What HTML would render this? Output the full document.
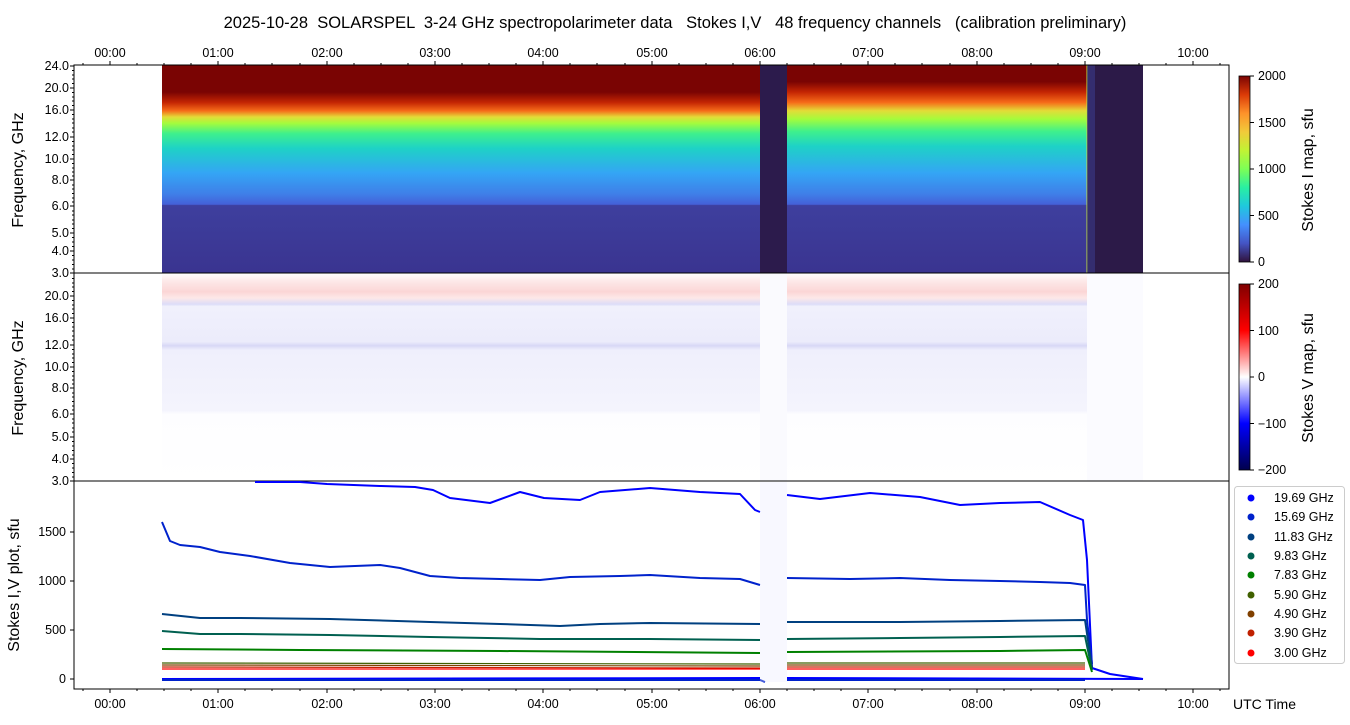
<!DOCTYPE html>
<html><head><meta charset="utf-8"><style>
body{margin:0;background:#fff;}
svg{display:block;font-family:"Liberation Sans","DejaVu Sans",sans-serif;}
</style></head><body>
<svg width="1350" height="725" viewBox="0 0 1350 725" xmlns="http://www.w3.org/2000/svg">
<defs>
<linearGradient id="gI" x1="0" y1="0" x2="0" y2="1">
<stop offset="0" stop-color="#7a0403"/>
<stop offset="0.13" stop-color="#7a0403"/>
<stop offset="0.18" stop-color="#c42503"/>
<stop offset="0.22" stop-color="#f66b19"/>
<stop offset="0.25" stop-color="#e2dc38"/>
<stop offset="0.28" stop-color="#a4fc3c"/>
<stop offset="0.33" stop-color="#3ef08d"/>
<stop offset="0.40" stop-color="#1ed2c6"/>
<stop offset="0.52" stop-color="#34a5f5"/>
<stop offset="0.62" stop-color="#3f7fe8"/>
<stop offset="0.67" stop-color="#4460d8"/>
<stop offset="0.675" stop-color="#3e3f9e"/>
<stop offset="1" stop-color="#3a3490"/>
</linearGradient>
<linearGradient id="gI2" x1="0" y1="0" x2="0" y2="1">
<stop offset="0" stop-color="#7a0403"/>
<stop offset="0.08" stop-color="#7a0403"/>
<stop offset="0.13" stop-color="#c42503"/>
<stop offset="0.18" stop-color="#f66b19"/>
<stop offset="0.22" stop-color="#e2dc38"/>
<stop offset="0.26" stop-color="#a4fc3c"/>
<stop offset="0.32" stop-color="#3ef08d"/>
<stop offset="0.39" stop-color="#1ed2c6"/>
<stop offset="0.52" stop-color="#34a5f5"/>
<stop offset="0.62" stop-color="#3f7fe8"/>
<stop offset="0.67" stop-color="#4460d8"/>
<stop offset="0.675" stop-color="#3e3f9e"/>
<stop offset="1" stop-color="#3a3490"/>
</linearGradient>
<linearGradient id="gV" x1="0" y1="0" x2="0" y2="1">
<stop offset="0" stop-color="#ffffff"/>
<stop offset="0.04" stop-color="#fde8e8"/>
<stop offset="0.09" stop-color="#fbd6d6"/>
<stop offset="0.12" stop-color="#fde8e8"/>
<stop offset="0.15" stop-color="#dcdcf8"/>
<stop offset="0.16" stop-color="#f0f0fc"/>
<stop offset="0.33" stop-color="#ececfb"/>
<stop offset="0.35" stop-color="#d8d8f6"/>
<stop offset="0.37" stop-color="#efeffc"/>
<stop offset="0.66" stop-color="#f4f4fd"/>
<stop offset="0.68" stop-color="#fdfdff"/>
<stop offset="1" stop-color="#ffffff"/>
</linearGradient>
<linearGradient id="cbI" x1="0" y1="1" x2="0" y2="0">
<stop offset="0" stop-color="#30123b"/>
<stop offset="0.1" stop-color="#4454c4"/>
<stop offset="0.2" stop-color="#4490fe"/>
<stop offset="0.3" stop-color="#1fc8de"/>
<stop offset="0.4" stop-color="#29efa2"/>
<stop offset="0.5" stop-color="#7dff56"/>
<stop offset="0.6" stop-color="#c1f334"/>
<stop offset="0.7" stop-color="#f1ca3a"/>
<stop offset="0.8" stop-color="#fe922a"/>
<stop offset="0.9" stop-color="#db3a07"/>
<stop offset="1" stop-color="#7a0403"/>
</linearGradient>
<linearGradient id="cbV" x1="0" y1="1" x2="0" y2="0">
<stop offset="0" stop-color="#00004c"/>
<stop offset="0.25" stop-color="#0000ff"/>
<stop offset="0.5" stop-color="#ffffff"/>
<stop offset="0.75" stop-color="#ff0000"/>
<stop offset="1" stop-color="#800000"/>
</linearGradient>
</defs>

<text x="675" y="28" text-anchor="middle" font-size="16.5" style="white-space:pre" xml:space="preserve">2025-10-28  SOLARSPEL  3-24 GHz spectropolarimeter data   Stokes I,V   48 frequency channels   (calibration preliminary)</text>

<!-- Panel 1 -->
<rect x="162" y="65" width="598" height="208" fill="url(#gI)"/>
<rect x="787" y="65" width="300" height="208" fill="url(#gI2)"/>
<rect x="760" y="65" width="27" height="208" fill="#2c1b4c"/>
<rect x="1087" y="65" width="56" height="208" fill="#2c1a48"/>
<rect x="1087" y="65" width="8" height="208" fill="#3a3a8a" opacity="0.6"/>
<rect x="1086" y="65" width="1.5" height="208" fill="#c0e040" opacity="0.5"/>
<rect x="74" y="65" width="1155" height="208" fill="none" stroke="#000" stroke-width="1"/>

<!-- Panel 2 -->
<rect x="162" y="273" width="981" height="208" fill="url(#gV)"/>
<rect x="760" y="273" width="27" height="208" fill="#fafafe"/>
<rect x="1087" y="273" width="56" height="208" fill="#fbfbff"/>
<rect x="74" y="273" width="1155" height="208" fill="none" stroke="#000" stroke-width="1"/>

<!-- Panel 3 -->
<rect x="74" y="481" width="1155" height="208" fill="none" stroke="#000" stroke-width="1"/>
<g fill="none" stroke-width="2" stroke-linejoin="round">
<polyline stroke="#0000ff" points="255,482 300,482 327,484 380,486 415,487 433,490 450,498 490,503 520,492 544,498 580,500 600,492 625,490 650,488 700,492 740,494 755,510 760,512"/>
<polyline stroke="#0000ff" points="787,495 820,499 870,493 920,497 960,505 1000,503 1040,502 1070,515 1083,520 1087,560 1092,668 1110,674 1143,679"/>
<polyline stroke="#0022cc" points="162,522 170,541 180,545 200,547 220,552 250,556 290,563 330,567 380,565 400,568 430,576 460,578 500,579 540,580 570,577 620,576 650,575 700,578 740,579 760,585"/>
<polyline stroke="#0022cc" points="787,578 850,579 900,578 950,580 1000,581 1040,582 1070,583 1085,585 1087,620 1092,664"/>
<polyline stroke="#004080" points="162,614 200,618 240,618 330,619 430,622 500,624 560,626 600,624 650,623 760,624"/>
<polyline stroke="#004080" points="787,622 900,622 1000,621 1085,620 1092,668"/>
<polyline stroke="#006050" points="162,631 200,634 240,634 330,635 430,637 540,639 650,639 760,640"/>
<polyline stroke="#006050" points="787,639 900,638 1000,637 1085,636 1092,670"/>
<polyline stroke="#008000" points="162,649 300,650 500,651 760,653"/>
<polyline stroke="#008000" points="787,652 1000,651 1085,650 1092,672"/>
</g>
<g fill="none" stroke-width="1.2">
<polyline stroke="#406000" points="162,663 760,664"/><polyline stroke="#406000" points="787,663 1085,663"/>
<polyline stroke="#804000" points="162,665 760,666"/><polyline stroke="#804000" points="787,665 1085,665"/>
<polyline stroke="#c02000" points="162,667 760,668"/><polyline stroke="#c02000" points="787,667 1085,667"/>
<polyline stroke="#ff0000" points="162,669 760,669"/><polyline stroke="#ff0000" points="787,669 1085,669"/>
</g>
<g fill="none" stroke-width="2">
<polyline stroke="#0000ff" points="162,679 760,678"/><polyline stroke="#0000ff" points="787,678 1143,679"/>
<polyline stroke="#0022cc" points="162,680 760,680 765,682"/><polyline stroke="#0022cc" points="787,680 1085,680"/>
</g>
<rect x="760" y="482" width="27" height="200" fill="#e8e8ff" opacity="0.3"/>

<!-- Colorbars -->
<rect x="1239" y="76" width="11" height="186" fill="url(#cbI)" stroke="#000" stroke-width="0.8"/>
<rect x="1239" y="284" width="11" height="186" fill="url(#cbV)" stroke="#000" stroke-width="0.8"/>
<g font-size="12.5" fill="#000">
<text x="1258" y="80">2000</text><text x="1258" y="127">1500</text><text x="1258" y="173">1000</text><text x="1258" y="220">500</text><text x="1258" y="266">0</text>
<text x="1258" y="288">200</text><text x="1258" y="335">100</text><text x="1258" y="381">0</text><text x="1258" y="428">−100</text><text x="1258" y="474">−200</text>
</g>
<g stroke="#000">
<line x1="1250" y1="76" x2="1254" y2="76"/><line x1="1250" y1="122.5" x2="1254" y2="122.5"/><line x1="1250" y1="169" x2="1254" y2="169"/><line x1="1250" y1="215.5" x2="1254" y2="215.5"/><line x1="1250" y1="262" x2="1254" y2="262"/>
<line x1="1250" y1="284" x2="1254" y2="284"/><line x1="1250" y1="330.5" x2="1254" y2="330.5"/><line x1="1250" y1="377" x2="1254" y2="377"/><line x1="1250" y1="423.5" x2="1254" y2="423.5"/><line x1="1250" y1="470" x2="1254" y2="470"/>
</g>
<text transform="translate(1313,170) rotate(-90)" text-anchor="middle" font-size="16">Stokes I map, sfu</text>
<text transform="translate(1313,378) rotate(-90)" text-anchor="middle" font-size="16">Stokes V map, sfu</text>

<!-- Legend -->
<rect x="1234.5" y="486.5" width="110" height="177" rx="3" fill="#fff" stroke="#ccc"/>
<g font-size="12.5">
<circle cx="1251" cy="498" r="3.5" fill="#0000ff"/><text x="1274" y="502">19.69 GHz</text>
<circle cx="1251" cy="517" r="3.5" fill="#0022cc"/><text x="1274" y="521">15.69 GHz</text>
<circle cx="1251" cy="537" r="3.5" fill="#004080"/><text x="1274" y="541">11.83 GHz</text>
<circle cx="1251" cy="556" r="3.5" fill="#006050"/><text x="1274" y="560">9.83 GHz</text>
<circle cx="1251" cy="575" r="3.5" fill="#008000"/><text x="1274" y="579">7.83 GHz</text>
<circle cx="1251" cy="595" r="3.5" fill="#406000"/><text x="1274" y="599">5.90 GHz</text>
<circle cx="1251" cy="614" r="3.5" fill="#804000"/><text x="1274" y="618">4.90 GHz</text>
<circle cx="1251" cy="633" r="3.5" fill="#c02000"/><text x="1274" y="637">3.90 GHz</text>
<circle cx="1251" cy="653" r="3.5" fill="#ff0000"/><text x="1274" y="657">3.00 GHz</text>
</g>

<!-- Y labels panel 1/2 -->
<g font-size="12.5" text-anchor="end">
<text x="69" y="70">24.0</text><text x="69" y="92">20.0</text><text x="69" y="114">16.0</text><text x="69" y="141">12.0</text><text x="69" y="163">10.0</text><text x="69" y="184">8.0</text><text x="69" y="210">6.0</text><text x="69" y="237">5.0</text><text x="69" y="255">4.0</text><text x="69" y="277">3.0</text>
<text x="69" y="300">20.0</text><text x="69" y="322">16.0</text><text x="69" y="349">12.0</text><text x="69" y="371">10.0</text><text x="69" y="392">8.0</text><text x="69" y="418">6.0</text><text x="69" y="441">5.0</text><text x="69" y="463">4.0</text><text x="69" y="485">3.0</text>
<text x="66" y="683">0</text><text x="66" y="634">500</text><text x="66" y="585">1000</text><text x="66" y="536">1500</text>
</g>
<g stroke="#000" stroke-width="1">
<path d="M70,66h4M70,88h4M70,110h4M70,137h4M70,159h4M70,180h4M70,206h4M70,233h4M70,251h4M70,273h4M70,296h4M70,318h4M70,345h4M70,367h4M70,388h4M70,414h4M70,437h4M70,459h4M70,481h4M70,679h4M70,630h4M70,581h4M70,532h4"/>
<path d="M72,70.5h2M72,75h2M72,79h2M72,83.5h2M72,92.5h2M72,97h2M72,101h2M72,105.5h2M72,114.5h2M72,119h2M72,123h2M72,128h2M72,132h2M72,141.5h2M72,146h2M72,150h2M72,154.5h2M72,163.5h2M72,168h2M72,172h2M72,176h2M72,185h2M72,189h2M72,193.5h2M72,198h2M72,202h2M72,211h2M72,215h2M72,220h2M72,224h2M72,228.5h2M72,237.5h2M72,242h2M72,246.5h2M72,255.5h2M72,260h2M72,264.5h2M72,269h2"/>
<path d="M72,278.5h2M72,283h2M72,287h2M72,291.5h2M72,300.5h2M72,305h2M72,309h2M72,313.5h2M72,322.5h2M72,327h2M72,331h2M72,336h2M72,340h2M72,349.5h2M72,354h2M72,358h2M72,362.5h2M72,371.5h2M72,376h2M72,380h2M72,384h2M72,393h2M72,397h2M72,401.5h2M72,406h2M72,410h2M72,419h2M72,423h2M72,428h2M72,432h2M72,441.5h2M72,446h2M72,450.5h2M72,455h2M72,463.5h2M72,468h2M72,472.5h2M72,477h2"/>
</g>
<text transform="translate(23,170) rotate(-90)" text-anchor="middle" font-size="16">Frequency, GHz</text>
<text transform="translate(23,378) rotate(-90)" text-anchor="middle" font-size="16">Frequency, GHz</text>
<text transform="translate(19,585) rotate(-90)" text-anchor="middle" font-size="16">Stokes I,V plot, sfu</text>

<!-- X axes -->
<g font-size="12.5" text-anchor="middle">
<text x="110" y="57">00:00</text><text x="218" y="57">01:00</text><text x="327" y="57">02:00</text><text x="435" y="57">03:00</text><text x="543" y="57">04:00</text><text x="652" y="57">05:00</text><text x="760" y="57">06:00</text><text x="868" y="57">07:00</text><text x="977" y="57">08:00</text><text x="1085" y="57">09:00</text><text x="1193" y="57">10:00</text>
<text x="110" y="708">00:00</text><text x="218" y="708">01:00</text><text x="327" y="708">02:00</text><text x="435" y="708">03:00</text><text x="543" y="708">04:00</text><text x="652" y="708">05:00</text><text x="760" y="708">06:00</text><text x="868" y="708">07:00</text><text x="977" y="708">08:00</text><text x="1085" y="708">09:00</text><text x="1193" y="708">10:00</text>
</g>
<text x="1233" y="709" font-size="14">UTC Time</text>
<g stroke="#000">
<path d="M110,61v4M218,61v4M327,61v4M435,61v4M543,61v4M652,61v4M760,61v4M868,61v4M977,61v4M1085,61v4M1193,61v4M110,689v4M218,689v4M327,689v4M435,689v4M543,689v4M652,689v4M760,689v4M868,689v4M977,689v4M1085,689v4M1193,689v4"/>
<path d="M83,63v2M137,63v2M164,63v2M191,63v2M245,63v2M272,63v2M300,63v2M354,63v2M381,63v2M408,63v2M462,63v2M489,63v2M516,63v2M570,63v2M597,63v2M625,63v2M679,63v2M706,63v2M733,63v2M787,63v2M814,63v2M841,63v2M895,63v2M922,63v2M950,63v2M1004,63v2M1031,63v2M1058,63v2M1112,63v2M1139,63v2M1166,63v2M1220,63v2"/>
<path d="M83,689v2M137,689v2M164,689v2M191,689v2M245,689v2M272,689v2M300,689v2M354,689v2M381,689v2M408,689v2M462,689v2M489,689v2M516,689v2M570,689v2M597,689v2M625,689v2M679,689v2M706,689v2M733,689v2M787,689v2M814,689v2M841,689v2M895,689v2M922,689v2M950,689v2M1004,689v2M1031,689v2M1058,689v2M1112,689v2M1139,689v2M1166,689v2M1220,689v2"/>
</g>
</svg>
</body></html>
